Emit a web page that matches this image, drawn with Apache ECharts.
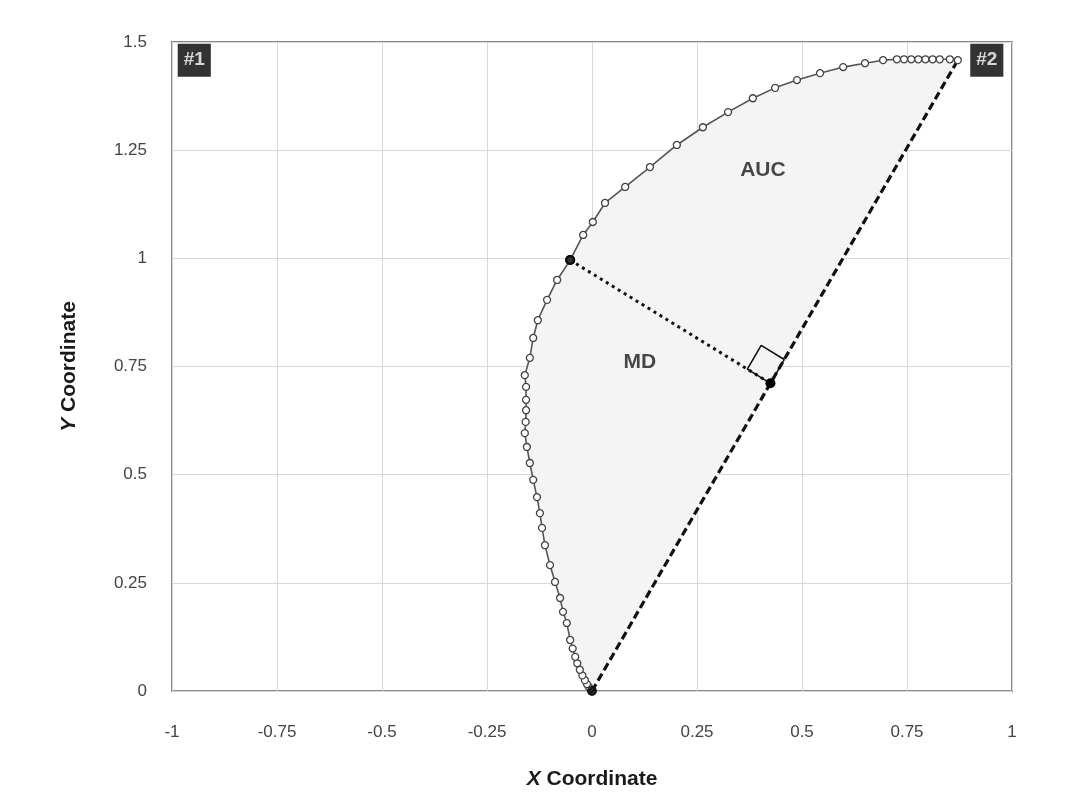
<!DOCTYPE html>
<html>
<head>
<meta charset="utf-8">
<script src="https://cdn.jsdelivr.net/npm/echarts@6/dist/echarts.min.js"></script>
<style>html,body{margin:0;padding:0;background:#fff;}#c{width:1090px;height:799px;}</style>
</head>
<body>
<div id="c"></div>
<script>
// ---- data ----
const xTicks = [-1, -0.75, -0.5, -0.25, 0, 0.25, 0.5, 0.75, 1];
const yTicks = [0, 0.25, 0.5, 0.75, 1, 1.25, 1.5];
const trajectory = [
  [0,0],[-0.004,0.005],[-0.008,0.010],[-0.012,0.016],[-0.017,0.025],[-0.023,0.036],
  [-0.029,0.049],[-0.035,0.064],[-0.040,0.079],[-0.046,0.098],[-0.052,0.118],
  [-0.060,0.157],[-0.069,0.183],[-0.076,0.215],[-0.088,0.252],[-0.100,0.291],
  [-0.112,0.337],[-0.119,0.377],[-0.124,0.411],[-0.131,0.448],[-0.140,0.488],
  [-0.148,0.527],[-0.155,0.564],[-0.160,0.596],[-0.158,0.622],[-0.157,0.649],
  [-0.157,0.673],[-0.157,0.703],[-0.160,0.730],[-0.148,0.770],[-0.140,0.816],
  [-0.129,0.857],[-0.107,0.904],[-0.083,0.950],[-0.052,0.996],[-0.021,1.054],
  [0.002,1.084],[0.031,1.128],[0.079,1.165],[0.138,1.211],[0.202,1.262],
  [0.264,1.303],[0.324,1.338],[0.383,1.370],[0.436,1.394],[0.488,1.412],
  [0.543,1.428],[0.598,1.442],[0.650,1.451],[0.693,1.458],[0.726,1.460],
  [0.743,1.460],[0.760,1.460],[0.777,1.460],[0.794,1.460],[0.811,1.460],
  [0.828,1.460],[0.852,1.460],[0.871,1.458]
];
const startPoint = [0, 0];
const endPoint = [0.871, 1.458];
const mdPoint = [-0.052, 0.996];
const annotations = [
  { name: 'AUC', pos: [0.407, 1.204] },
  { name: 'MD', pos: [0.114, 0.760] }
];
const targetLabels = [
  { name: '#1', pos: [-0.947, 1.458] },
  { name: '#2', pos: [0.940, 1.458] }
];
const squareSide = 0.064;

// ---- derived geometry ----
const ex = endPoint[0] - startPoint[0], ey = endPoint[1] - startPoint[1];
const t = ((mdPoint[0]-startPoint[0])*ex + (mdPoint[1]-startPoint[1])*ey) / (ex*ex + ey*ey);
const foot = [startPoint[0] + t*ex, startPoint[1] + t*ey];
const el = Math.hypot(ex, ey);
const u = [ex/el, ey/el];
const nx = mdPoint[0]-foot[0], ny = mdPoint[1]-foot[1];
const nl = Math.hypot(nx, ny);
const n = [nx/nl, ny/nl];
const square = [
  foot,
  [foot[0] + squareSide*u[0], foot[1] + squareSide*u[1]],
  [foot[0] + squareSide*(u[0]+n[0]), foot[1] + squareSide*(u[1]+n[1])],
  [foot[0] + squareSide*n[0], foot[1] + squareSide*n[1]],
  foot
];

const chart = echarts.init(document.getElementById('c'));
const FONT = '"Liberation Sans", Arial, sans-serif';
chart.setOption({
  animation: false,
  backgroundColor: '#fff',
  grid: { left: 172, right: 78, top: 42, bottom: 108, show: true, borderColor: '#888', borderWidth: 2, backgroundColor: 'transparent' },
  xAxis: {
    type: 'value', min: xTicks[0], max: xTicks[xTicks.length-1], interval: 0.25,
    axisLine: { show: false }, axisTick: { show: false },
    splitLine: { lineStyle: { color: '#d8d8d8', width: 1 } },
    axisLabel: { margin: 33, fontFamily: FONT, fontSize: 17, color: '#444' },
    name: '{i|X} Coordinate', nameLocation: 'middle', nameGap: 78,
    nameTextStyle: { fontFamily: FONT, fontSize: 21, fontWeight: 'bold', color: '#1a1a1a',
      rich: { i: { fontStyle: 'italic', fontWeight: 'bold', fontSize: 21, fontFamily: FONT, color: '#1a1a1a' } } }
  },
  yAxis: {
    type: 'value', min: yTicks[0], max: yTicks[yTicks.length-1], interval: 0.25,
    axisLine: { show: false }, axisTick: { show: false },
    splitLine: { lineStyle: { color: '#d8d8d8', width: 1 } },
    axisLabel: { margin: 25, fontFamily: FONT, fontSize: 17, color: '#444' },
    name: '{i|Y} Coordinate', nameLocation: 'middle', nameGap: 92, nameRotate: 90,
    nameTextStyle: { fontFamily: FONT, fontSize: 21, fontWeight: 'bold', color: '#1a1a1a',
      rich: { i: { fontStyle: 'italic', fontWeight: 'bold', fontSize: 21, fontFamily: FONT, color: '#1a1a1a' } } }
  },
  series: [
    {
      type: 'custom', z: 1, silent: true,
      data: [0],
      renderItem: function (params, api) {
        const pts = trajectory.map(p => api.coord(p));
        return { type: 'polygon', shape: { points: pts }, style: { fill: '#f4f4f4', stroke: null } };
      }
    },
    {
      type: 'line', z: 3, data: [startPoint, endPoint], symbol: 'none',
      lineStyle: { color: '#111', width: 3.2, type: [8, 4] }
    },
    {
      type: 'line', z: 3, data: [mdPoint, foot], symbol: 'circle', symbolSize: 10,
      itemStyle: { color: '#000' },
      lineStyle: { color: '#111', width: 3, type: [3, 4] }
    },
    {
      type: 'line', z: 3, data: square, symbol: 'none',
      lineStyle: { color: '#111', width: 1.6 }
    },
    {
      type: 'line', z: 4, data: trajectory, symbol: 'circle', symbolSize: 7,
      itemStyle: { color: '#fff', borderColor: '#444', borderWidth: 1.3 },
      lineStyle: { color: '#555', width: 1.6 }
    },
    {
      type: 'scatter', z: 5, data: [mdPoint, startPoint], symbol: 'circle', symbolSize: 10,
      itemStyle: { color: '#000' }
    },
    {
      type: 'scatter', z: 6, symbolSize: 0,
      data: annotations.map(a => ({ name: a.name, value: a.pos })),
      label: { show: true, position: 'inside', formatter: '{b}', fontFamily: FONT, fontSize: 21, fontWeight: 'bold', color: '#1a1a1a' }
    },
    {
      type: 'scatter', z: 7, symbolSize: 0,
      data: targetLabels.map(a => ({ name: a.name, value: a.pos })),
      label: { show: true, position: 'inside', formatter: '{b}', fontFamily: FONT, fontSize: 19, fontWeight: 'bold', color: '#fff',
        backgroundColor: '#000', padding: [8, 6, 6, 6] }
    }
  ]
});
</script>
</body>
</html>
